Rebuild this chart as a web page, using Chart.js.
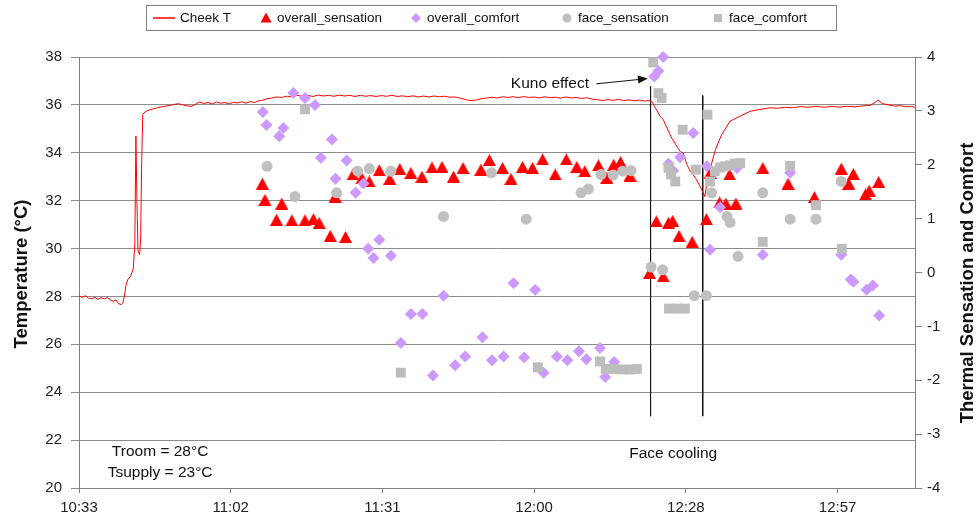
<!DOCTYPE html>
<html>
<head>
<meta charset="utf-8">
<title>Cheek temperature and thermal sensation</title>
<script src="https://cdn.jsdelivr.net/npm/chart.js@4.4.1/dist/chart.umd.min.js"></script>
<style>
    html, body { margin: 0; padding: 0; background: #fff; }
    #wrap { width: 980px; height: 522px; position: relative; }
</style>
</head>
<body>
<div id="wrap"><canvas id="chart"></canvas></div>
<script>
// Time is in minutes after midnight, temperature in degC (left axis),
// votes on the right axis (-4 .. 4)

// Cheek T trace
const cheekTime = [
    633.6, 634.2, 634.8, 635.4, 636.0, 636.6, 637.2, 637.8, 638.4, 639.0, 639.6, 640.1, 640.6, 641.1, 641.6, 641.9,
    642.2, 642.5, 642.9, 643.4, 643.9, 644.2, 644.4, 644.6, 644.8, 645.1, 645.3, 645.5, 645.7, 646.2, 646.9, 647.7,
    648.5, 649.3, 650.1, 650.9, 651.7, 652.5, 653.3, 654.1, 654.9, 655.7, 656.5, 657.3, 658.1, 658.9, 659.7, 660.5,
    661.3, 662.1, 662.9, 663.7, 664.5, 665.3, 666.1, 666.9, 667.7, 668.5, 669.3, 670.1, 671.0, 672.0, 673.0, 674.0,
    675.0, 676.0, 677.0, 678.0, 679.0, 680.0, 681.0, 682.0, 683.0, 684.0, 685.0, 686.0, 687.0, 688.0, 689.0, 690.0,
    691.0, 692.0, 693.0, 694.0, 695.0, 696.0, 697.0, 698.0, 699.0, 700.0, 701.0, 702.0, 703.0, 704.0, 705.0, 706.0,
    707.0, 708.0, 709.0, 710.0, 711.0, 712.0, 713.0, 714.0, 715.0, 716.0, 717.0, 718.0, 719.0, 720.0, 721.0, 722.0,
    723.0, 724.0, 725.0, 726.0, 727.0, 728.0, 729.0, 730.0, 731.0, 732.0, 733.0, 734.0, 735.0, 736.0, 737.0, 738.0,
    739.0, 740.0, 741.0, 741.8, 742.3, 743.0, 743.9, 744.5, 745.2, 746.1, 747.1, 747.7, 748.3, 749.0, 749.6, 750.6,
    751.5, 752.1, 752.4, 752.8, 753.4, 754.4, 755.6, 757.2, 759.1, 761.0, 762.6, 764.8, 766.2, 767.6, 769.0, 770.5,
    772.0, 773.5, 775.0, 776.5, 778.0, 779.5, 781.0, 782.4, 783.8, 784.7, 785.3, 786.1, 787.2, 788.5, 789.5, 790.4,
    791.4, 792.3
];
const cheekTemp = [
    28.02, 27.96, 28.03, 27.93, 27.90, 27.97, 27.88, 27.95, 27.90, 27.96, 27.84, 27.80, 27.86, 27.70, 27.66, 27.72,
    27.98, 28.45, 28.72, 28.85, 29.15, 30.20, 34.70, 32.00, 29.90, 29.75, 30.40, 33.60, 35.60, 35.72, 35.78, 35.84,
    35.88, 35.92, 35.95, 35.98, 36.02, 36.05, 36.00, 35.96, 35.94, 36.02, 36.12, 36.06, 36.10, 36.04, 36.12, 36.07,
    36.10, 36.04, 36.11, 36.08, 36.13, 36.07, 36.14, 36.10, 36.17, 36.20, 36.26, 36.28, 36.33, 36.31, 36.36, 36.34,
    36.40, 36.36, 36.40, 36.35, 36.41, 36.37, 36.40, 36.36, 36.41, 36.37, 36.40, 36.35, 36.40, 36.36, 36.39, 36.35,
    36.39, 36.36, 36.40, 36.35, 36.38, 36.34, 36.38, 36.33, 36.37, 36.33, 36.37, 36.34, 36.36, 36.32, 36.33, 36.28,
    36.22, 36.18, 36.20, 36.26, 36.29, 36.32, 36.29, 36.34, 36.31, 36.34, 36.30, 36.35, 36.31, 36.33, 36.29, 36.34,
    36.30, 36.32, 36.28, 36.33, 36.29, 36.31, 36.27, 36.30, 36.24, 36.22, 36.18, 36.22, 36.19, 36.23, 36.18, 36.21,
    36.17, 36.20, 36.16, 36.18, 36.15, 35.88, 35.53, 35.39, 35.04, 34.62, 34.27, 34.06, 33.99, 33.50, 33.25, 32.96,
    32.60, 32.32, 32.17, 32.74, 33.30, 34.13, 34.76, 35.32, 35.53, 35.73, 35.80, 35.88, 35.86, 35.90, 35.88, 35.93,
    35.90, 35.94, 35.90, 35.93, 35.91, 35.94, 35.92, 35.96, 35.98, 36.10, 36.20, 36.06, 36.00, 35.95, 35.97, 35.92,
    35.94, 35.90
];

// overall_sensation
const sensTime = [
    668.4, 668.9, 671.1, 672.1, 674.0, 676.5, 678.1, 679.2, 681.3, 682.2, 684.2, 685.6, 687.3, 688.7, 690.6, 692.6,
    694.5, 696.6, 698.7, 700.6, 702.5, 704.7, 706.5, 709.9, 711.5, 714.0, 715.6, 717.8, 719.7, 721.6, 724.0, 726.1,
    728.1, 729.6, 732.2, 733.8, 735.1, 736.4, 738.2, 741.9, 743.2, 744.5, 745.5, 746.3, 747.5, 750.0, 752.7, 753.4,
    755.2, 756.4, 757.1, 758.3, 763.4, 768.2, 773.2, 778.3, 779.7, 780.6, 782.9, 783.6, 785.4
];
const sensValue = [
    1.65, 1.35, 0.98, 1.28, 0.97, 0.97, 0.99, 0.92, 0.68, 1.41, 0.66, 1.82, 1.75, 1.69, 1.90, 1.74,
    1.92, 1.85, 1.78, 1.95, 1.96, 1.78, 1.94, 1.91, 2.09, 1.94, 1.74, 1.96, 1.94, 2.10, 1.82, 2.10,
    1.96, 1.88, 1.99, 1.76, 2.00, 2.05, 1.80, -0.01, 0.95, -0.07, 0.92, 0.96, 0.68, 0.57, 0.99, 1.85,
    1.30, 1.28, 1.82, 1.28, 1.94, 1.65, 1.40, 1.93, 1.65, 1.83, 1.45, 1.52, 1.68
];

// overall_comfort
const comfTime = [
    668.5, 669.2, 671.6, 672.4, 674.3, 676.5, 678.4, 681.6, 679.5, 684.4, 682.3, 687.6, 686.1, 690.6, 688.5, 689.5,
    692.8, 694.7, 696.6, 698.8, 702.8, 700.8, 705.0, 706.9, 710.2, 712.0, 714.2, 716.1, 718.1, 720.2, 721.8, 724.3,
    726.3, 728.5, 729.9, 732.5, 733.5, 735.2, 742.8, 743.6, 744.5, 745.5, 746.4, 747.7, 750.2, 752.8, 755.3, 753.4,
    758.5, 763.4, 768.6, 778.3, 780.1, 780.6, 783.1, 784.3, 785.5
];
const comfValue = [
    2.98, 2.74, 2.53, 2.68, 3.33, 3.24, 3.11, 2.47, 2.13, 2.08, 1.74, 1.65, 1.48, 0.61, 0.44, 0.27,
    0.31, -1.31, -0.77, -0.77, -0.43, -1.91, -1.72, -1.56, -1.20, -1.63, -1.56, -0.20, -1.58, -0.32, -1.86, -1.56,
    -1.63, -1.46, -1.61, -1.40, -1.94, -1.66, 3.64, 3.74, 4.00, 2.02, 1.89, 2.14, 2.59, 1.97, 1.21, 0.42,
    1.94, 0.33, 1.85, 0.33, -0.13, -0.17, -0.32, -0.24, -0.80
];

// face_sensation
const faceSensTime = [
    669.3, 674.6, 682.5, 686.5, 688.7, 692.8, 702.8, 711.9, 718.5, 728.9, 730.3, 732.7, 735.0, 736.8, 738.4, 742.2,
    744.4, 750.4, 752.7, 753.7, 756.6, 757.2, 758.7, 763.4, 768.6, 773.5, 778.3
];
const faceSensValue = [
    1.97, 1.41, 1.48, 1.88, 1.93, 1.88, 1.04, 1.85, 0.99, 1.48, 1.55, 1.82, 1.81, 1.88, 1.89, 0.10,
    0.05, -0.43, -0.43, 1.48, 1.04, 0.93, 0.30, 1.48, 0.99, 0.99, 1.69
];

// face_comfort
const faceComfTime = [
    676.5, 694.7, 720.7, 732.5, 733.6, 735.2, 736.7, 738.2, 739.5, 742.6, 743.6, 744.2, 748.2, 752.9, 745.5, 746.0,
    746.8, 750.7, 753.4, 754.3, 755.3, 756.2, 757.2, 758.1, 759.1, 745.6, 747.1, 748.6, 763.4, 768.6, 773.5, 778.4
];
const faceComfValue = [
    3.03, -1.86, -1.76, -1.65, -1.79, -1.79, -1.80, -1.80, -1.79, 3.90, 3.33, 3.24, 2.65, 2.93, 1.94, 1.82,
    1.69, 1.91, 1.69, 1.88, 1.95, 1.97, 1.99, 2.02, 2.03, -0.67, -0.67, -0.67, 0.57, 1.98, 1.25, 0.44
];

// face cooling period markers (start / end)
const coolingTimes = [742.1, 752.0];
const coolingTops = [36.77, 36.39];
const coolingBottom = 23.0;

// axis ticks
const xTickValues = [633.6, 662.4, 691.2, 720.0, 748.8, 777.6];
const xMin = 633.6;
const xMax = 792.3;

const FONT = "'Liberation Sans', Arial, sans-serif";
Chart.defaults.font.family = FONT;
Chart.defaults.color = '#222';

function pairs(xs, ys) {
    return xs.map((x, i) => ({ x: x, y: ys[i] }));
}

function clockLabel(v) {
    const h = Math.floor(v / 60 + 1e-9);
    const m = Math.floor(v - h * 60 + 1e-6);
    return h + ':' + (m < 10 ? '0' : '') + m;
}

// triangle marker centred on its bounding box (like the spreadsheet marker)
function triangleImage(w, h, color) {
    const c = document.createElement('canvas');
    c.width = w;
    c.height = h;
    const g = c.getContext('2d');
    g.fillStyle = color;
    g.beginPath();
    g.moveTo(w / 2, 0);
    g.lineTo(w, h);
    g.lineTo(0, h);
    g.closePath();
    g.fill();
    return c;
}
const redTriangle = triangleImage(13, 12, '#FF0000');

const legendItems = [
    { label: 'Cheek T', style: 'line', color: '#FF0000', cx: 164, tx: 180 },
    { label: 'overall_sensation', style: 'triangle', color: '#FF0000', cx: 266, tx: 277 },
    { label: 'overall_comfort', style: 'diamond', color: '#CC99FF', cx: 416, tx: 427 },
    { label: 'face_sensation', style: 'circle', color: '#C0C0C0', cx: 567, tx: 578 },
    { label: 'face_comfort', style: 'square', color: '#BDBDBD', cx: 718, tx: 729 }
];

function drawMarker(ctx, style, x, y, color) {
    ctx.save();
    ctx.fillStyle = color;
    ctx.strokeStyle = color;
    ctx.beginPath();
    if (style === 'line') {
        ctx.lineWidth = 1.5;
        ctx.moveTo(x - 11, y);
        ctx.lineTo(x + 11, y);
        ctx.stroke();
        ctx.restore();
        return;
    }
    if (style === 'triangle') {
        ctx.moveTo(x, y - 5.5);
        ctx.lineTo(x + 5.5, y + 4.5);
        ctx.lineTo(x - 5.5, y + 4.5);
    } else if (style === 'diamond') {
        ctx.moveTo(x, y - 5);
        ctx.lineTo(x + 5, y);
        ctx.lineTo(x, y + 5);
        ctx.lineTo(x - 5, y);
    } else if (style === 'circle') {
        ctx.arc(x, y, 4.5, 0, Math.PI * 2);
    } else {
        ctx.rect(x - 4, y - 4, 8, 8);
    }
    ctx.closePath();
    ctx.fill();
    ctx.restore();
}

// legend box, axis titles and annotations
const decorations = {
    id: 'decorations',
    afterDraw(chart) {
        const ctx = chart.ctx;
        const xs = chart.scales.x;
        const yl = chart.scales.y;

        // legend
        ctx.save();
        ctx.fillStyle = '#fff';
        ctx.strokeStyle = '#808080';
        ctx.lineWidth = 1;
        ctx.fillRect(146.5, 5.5, 690, 25);
        ctx.strokeRect(146.5, 5.5, 690, 25);
        ctx.font = '13.5px ' + FONT;
        ctx.textBaseline = 'middle';
        legendItems.forEach(it => {
            drawMarker(ctx, it.style, it.cx, 18, it.color);
            ctx.fillStyle = '#111';
            ctx.fillText(it.label, it.tx, 18);
        });
        ctx.restore();

        // axis titles
        ctx.save();
        ctx.font = 'bold 18.5px ' + FONT;
        ctx.fillStyle = '#111';
        ctx.textAlign = 'center';
        ctx.textBaseline = 'middle';
        ctx.translate(22, 274);
        ctx.rotate(-Math.PI / 2);
        ctx.fillText('Temperature (°C)', 0, 0);
        ctx.restore();

        ctx.save();
        ctx.font = 'bold 18.5px ' + FONT;
        ctx.fillStyle = '#111';
        ctx.textAlign = 'center';
        ctx.textBaseline = 'middle';
        ctx.translate(968, 283);
        ctx.rotate(-Math.PI / 2);
        ctx.fillText('Thermal Sensation and Comfort', 0, 0);
        ctx.restore();

        // text notes
        ctx.save();
        ctx.font = '15.5px ' + FONT;
        ctx.fillStyle = '#111';
        ctx.textAlign = 'center';
        ctx.textBaseline = 'middle';
        ctx.fillText('Troom = 28°C', xs.getPixelForValue(649.0), yl.getPixelForValue(21.51));
        ctx.fillText('Tsupply = 23°C', xs.getPixelForValue(649.0), yl.getPixelForValue(20.63));
        ctx.fillText('Face cooling', xs.getPixelForValue(746.4), yl.getPixelForValue(21.42));
        ctx.fillText('Kuno effect', xs.getPixelForValue(723.0), yl.getPixelForValue(36.89));

        // arrow to the Kuno effect points
        const ax0 = xs.getPixelForValue(731.8), ay0 = yl.getPixelForValue(36.88);
        const ax1 = xs.getPixelForValue(741.6), ay1 = yl.getPixelForValue(37.10);
        const ang = Math.atan2(ay1 - ay0, ax1 - ax0);
        ctx.strokeStyle = '#111';
        ctx.lineWidth = 1;
        ctx.beginPath();
        ctx.moveTo(ax0, ay0);
        ctx.lineTo(ax1 - 8 * Math.cos(ang), ay1 - 8 * Math.sin(ang));
        ctx.stroke();
        ctx.fillStyle = '#111';
        ctx.beginPath();
        ctx.moveTo(ax1, ay1);
        ctx.lineTo(ax1 - 10 * Math.cos(ang) + 4 * Math.sin(ang), ay1 - 10 * Math.sin(ang) - 4 * Math.cos(ang));
        ctx.lineTo(ax1 - 10 * Math.cos(ang) - 4 * Math.sin(ang), ay1 - 10 * Math.sin(ang) + 4 * Math.cos(ang));
        ctx.closePath();
        ctx.fill();
        ctx.restore();
    }
};

const scatterBase = {
    type: 'scatter',
    yAxisID: 'y2',
    borderWidth: 0,
    clip: false
};

const datasets = [
    {
        type: 'line',
        label: 'Cheek T',
        data: pairs(cheekTime, cheekTemp),
        yAxisID: 'y',
        borderColor: '#FF0000',
        borderWidth: 1,
        pointRadius: 0,
        tension: 0,
        fill: false,
        order: 4
    },
    Object.assign({}, scatterBase, {
        label: 'overall_sensation',
        data: pairs(sensTime, sensValue),
        pointStyle: redTriangle,
        pointRadius: 7,
        backgroundColor: '#FF0000',
        order: 3
    }),
    Object.assign({}, scatterBase, {
        label: 'overall_comfort',
        data: pairs(comfTime, comfValue),
        pointStyle: 'rectRot',
        pointRadius: 6,
        backgroundColor: '#CC99FF',
        order: 2
    }),
    Object.assign({}, scatterBase, {
        label: 'face_sensation',
        data: pairs(faceSensTime, faceSensValue),
        pointStyle: 'circle',
        pointRadius: 5.5,
        backgroundColor: '#C0C0C0',
        order: 1
    }),
    Object.assign({}, scatterBase, {
        label: 'face_comfort',
        data: pairs(faceComfTime, faceComfValue),
        pointStyle: 'rect',
        pointRadius: 7,
        backgroundColor: '#BDBDBD',
        order: 0
    })
];

// the two vertical face cooling lines
coolingTimes.forEach((t, i) => {
    datasets.push({
        type: 'line',
        label: 'cooling' + i,
        data: [{ x: t, y: coolingTops[i] }, { x: t, y: coolingBottom }],
        yAxisID: 'y',
        borderColor: '#111',
        borderWidth: 1,
        pointRadius: 0,
        order: 5
    });
});

new Chart(document.getElementById('chart'), {
    type: 'scatter',
    data: { datasets: datasets },
    options: {
        responsive: true,
        maintainAspectRatio: false,
        animation: false,
        events: [],
        layout: { padding: { top: 57, left: 0, right: 0, bottom: 0 } },
        plugins: {
            legend: { display: false },
            tooltip: { enabled: false }
        },
        scales: {
            x: {
                type: 'linear',
                position: 'bottom',
                min: xMin,
                max: xMax,
                afterBuildTicks: scale => {
                    scale.ticks = xTickValues.map(v => ({ value: v }));
                },
                afterFit: scale => { scale.height = 34; },
                grid: { drawOnChartArea: false, drawTicks: true, tickLength: 5, color: '#808080' },
                border: { color: '#808080' },
                ticks: {
                    autoSkip: false,
                    maxRotation: 0,
                    padding: 6,
                    font: { size: 15 },
                    color: '#222',
                    callback: v => clockLabel(v)
                }
            },
            y: {
                type: 'linear',
                position: 'left',
                min: 20,
                max: 38,
                afterFit: scale => { scale.width = 79; },
                grid: { color: '#8c8c8c', tickLength: 8 },
                border: { color: '#808080' },
                ticks: { stepSize: 2, padding: 9, font: { size: 15 }, color: '#222' }
            },
            y2: {
                type: 'linear',
                position: 'right',
                min: -4,
                max: 4,
                afterFit: scale => { scale.width = 65; },
                grid: { drawOnChartArea: false, color: '#808080', tickLength: 7 },
                border: { color: '#808080' },
                ticks: { stepSize: 1, padding: 5, font: { size: 15 }, color: '#222' }
            }
        }
    },
    plugins: [decorations]
});
</script>
</body>
</html>
